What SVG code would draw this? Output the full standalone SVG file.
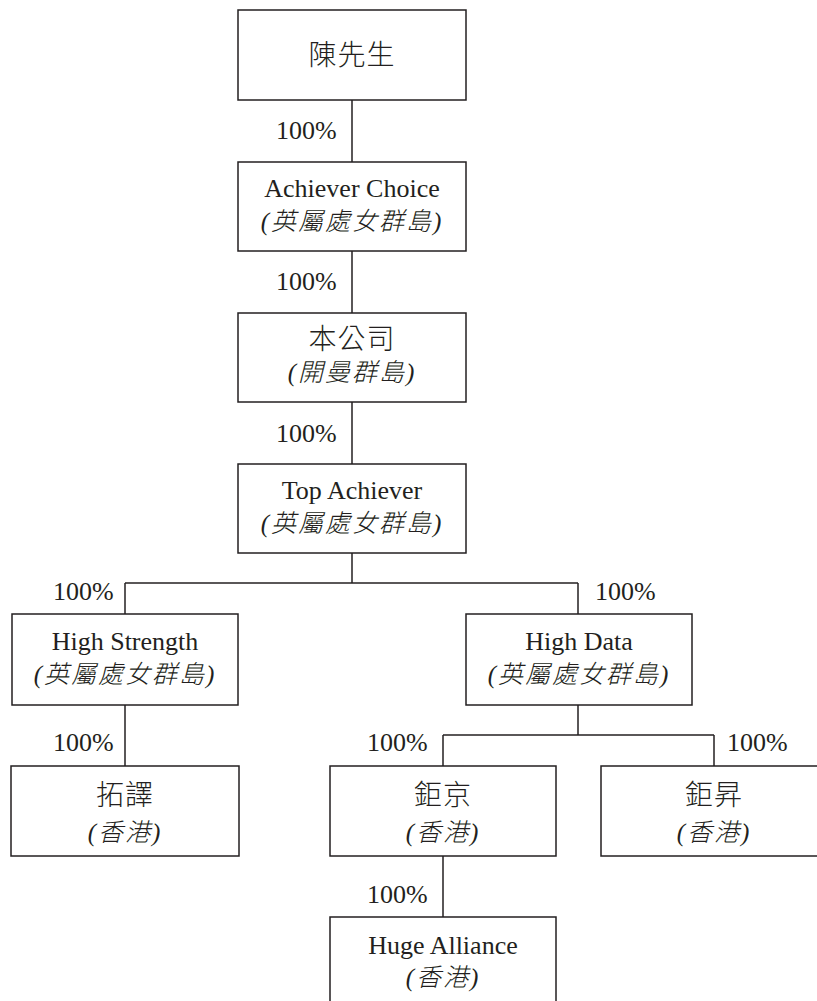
<svg xmlns="http://www.w3.org/2000/svg" width="817" height="1001" viewBox="0 0 817 1001">
<style>
rect{fill:#fff;stroke:#231f20;stroke-width:1.5}
.c line{stroke:#231f20;stroke-width:1.5}
text{font-family:"Liberation Serif","Noto Sans CJK TC",serif;font-size:26px;fill:#231f20;text-anchor:middle}
.k{font-size:28px;letter-spacing:1px;font-weight:300}
.i{font-style:italic;font-size:25px;letter-spacing:2px;font-weight:300}
.p{text-anchor:start;font-family:"Liberation Serif",serif;font-size:26px}
</style>
<rect width="817" height="1001" style="fill:#fff;stroke:none"/>
<g class="c" id="connectors">
<line x1="352" y1="100" x2="352" y2="162"/>
<line x1="352" y1="251" x2="352" y2="313"/>
<line x1="352" y1="402" x2="352" y2="464"/>
<line x1="352" y1="553" x2="352" y2="583"/>
<line x1="125" y1="583" x2="578" y2="583"/>
<line x1="125" y1="583" x2="125" y2="614"/>
<line x1="578" y1="583" x2="578" y2="614"/>
<line x1="125" y1="705" x2="125" y2="766"/>
<line x1="578" y1="705" x2="578" y2="735"/>
<line x1="443" y1="735" x2="714" y2="735"/>
<line x1="443" y1="735" x2="443" y2="766"/>
<line x1="714" y1="735" x2="714" y2="766"/>
<line x1="443" y1="856" x2="443" y2="917"/>
<text class="p" x="276" y="139">100%</text>
<text class="p" x="276" y="290">100%</text>
<text class="p" x="276" y="442">100%</text>
<text class="p" x="53" y="600">100%</text>
<text class="p" x="595" y="600">100%</text>
<text class="p" x="53" y="751">100%</text>
<text class="p" x="367" y="751">100%</text>
<text class="p" x="727" y="751">100%</text>
<text class="p" x="367" y="903">100%</text>
</g>
<g id="n-chen"><rect x="238" y="10" width="228" height="90"/><text class="k" x="352" y="65">陳先生</text></g>
<g id="n-achiever-choice"><rect x="238" y="162" width="228" height="89"/><text x="352" y="197">Achiever Choice</text><text class="i" x="352" y="230">(英屬處女群島)</text></g>
<g id="n-company"><rect x="238" y="313" width="228" height="89"/><text class="k" x="352" y="349">本公司</text><text class="i" x="352" y="381">(開曼群島)</text></g>
<g id="n-top-achiever"><rect x="238" y="464" width="228" height="89"/><text x="352" y="499">Top Achiever</text><text class="i" x="352" y="532">(英屬處女群島)</text></g>
<g id="n-high-strength"><rect x="12" y="614" width="226" height="91"/><text x="125" y="650">High Strength</text><text class="i" x="125" y="683">(英屬處女群島)</text></g>
<g id="n-high-data"><rect x="466" y="614" width="226" height="91"/><text x="579" y="650">High Data</text><text class="i" x="579" y="683">(英屬處女群島)</text></g>
<g id="n-tuoyi"><rect x="11" y="766" width="228" height="90"/><text class="k" x="125" y="805">拓譯</text><text class="i" x="125" y="841">(香港)</text></g>
<g id="n-jujing"><rect x="330" y="766" width="226" height="90"/><text class="k" x="443" y="805">鉅京</text><text class="i" x="443" y="841">(香港)</text></g>
<g id="n-jusheng"><rect x="601" y="766" width="230" height="90"/><text class="k" x="714" y="805">鉅昇</text><text class="i" x="714" y="841">(香港)</text></g>
<g id="n-huge-alliance"><rect x="330" y="917" width="226" height="100"/><text x="443" y="954">Huge Alliance</text><text class="i" x="443" y="986">(香港)</text></g>
</svg>
